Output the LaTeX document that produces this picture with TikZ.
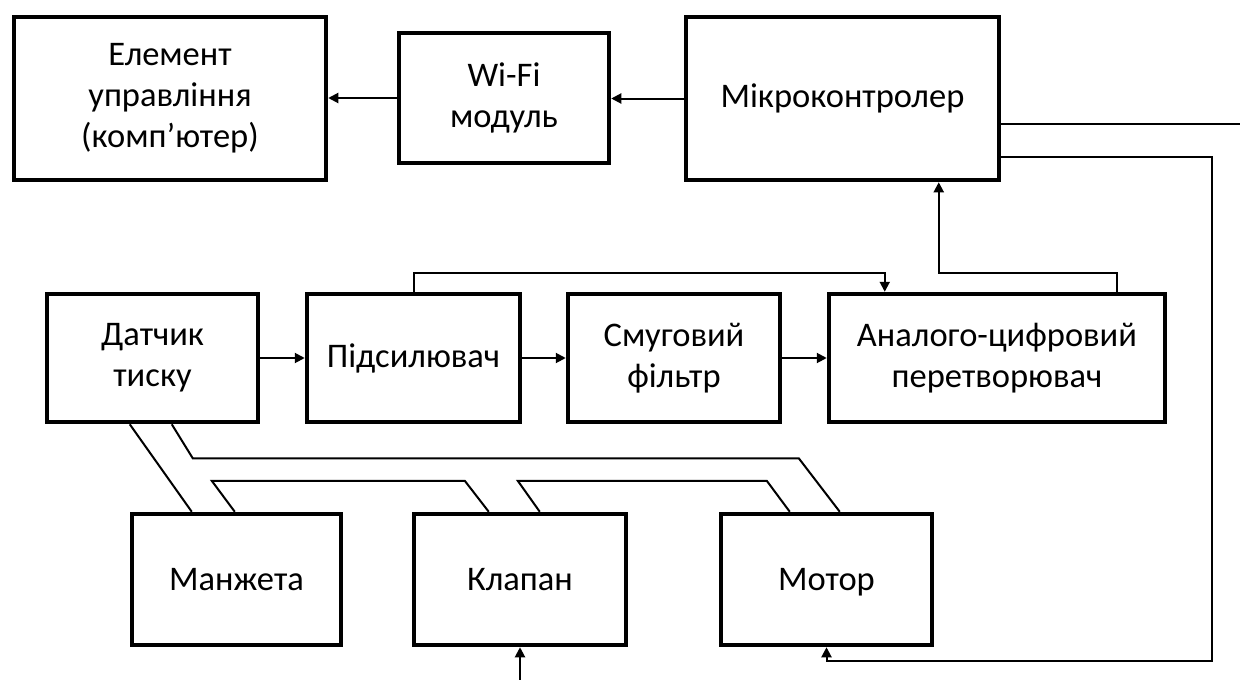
\documentclass[tikz,border=0pt]{standalone}
\usepackage{fontspec}
\setmainfont{Carlito}
\usetikzlibrary{arrows.meta,calc}
\begin{document}
\begin{tikzpicture}[x=1pt,y=-1pt,
  blk/.style={draw,line width=4.5pt,inner sep=0pt,align=center,
    font=\fontsize{34.5}{41}\selectfont},
  conn/.style={line width=2pt},
  arr/.style={line width=2pt,-{Triangle[length=10pt,width=10pt]}}]
\useasboundingbox (0,0) rectangle (1240,680);
\fill[white] (0,0) rectangle (1240,680);
% top row
\node[blk,minimum width=312pt,minimum height=163pt] (el) at (170,98.5) {Елемент\\управління\\(комп’ютер)};
\node[blk,minimum width=210pt,minimum height=130pt] (wifi) at (504,98) {Wi-Fi\\модуль};
\node[blk,minimum width=313pt,minimum height=163pt] (mcu) at (842.5,98.5) {Мікроконтроле\smash{р}};
% middle row
\node[blk,minimum width=211pt,minimum height=128pt] (dat) at (152.5,358) {Датчик\\тиску};
\node[blk,minimum width=213pt,minimum height=128pt] (amp) at (413.5,358) {Підсилювач};
\node[blk,minimum width=212pt,minimum height=128pt] (flt) at (674,358) {Смуговий\\фільтр};
\node[blk,minimum width=336pt,minimum height=128pt] (adc) at (997,358) {Аналого-цифровий\\перетворювач};
% bottom row
\node[blk,minimum width=209pt,minimum height=131pt] (man) at (236.5,579.5) {Манжета};
\node[blk,minimum width=212pt,minimum height=131pt] (kla) at (520,579.5) {Клапан};
\node[blk,minimum width=211pt,minimum height=131pt] (mot) at (826.5,579.5) {Мото\smash{р}};
% free ends
\coordinate (edge) at (1240,124);
\coordinate (rc) at (1212,157);
\coordinate (rb) at (1212,661);
\coordinate (kin) at (520,680);
% arrows
\draw[arr] (mcu.west) -- (mcu.west -| wifi.east);
\draw[arr] (wifi.west) -- (wifi.west -| el.east);
\draw[arr] (dat.east) -- (amp.west);
\draw[arr] (amp.east) -- (flt.west);
\draw[arr] (flt.east) -- (adc.west);
\draw[arr] (amp.north) -- ++(0,-19) -| ($(adc.north west)+(58,0)$);
\draw[arr] ($(adc.north east)+(-50,0)$) -- ++(0,-19) -| ($(mcu.south west)+(255,0)$);
\draw[conn] (mcu.east |- edge) -- (edge);
\draw[arr] (mcu.east |- rc) -- (rc) -- (rb) -| (mot.south);
\draw[arr] (kin) -- (kla.south);
% pipes
\draw[conn] ($(dat.south west)+(85,0)$) -- ($(man.north west)+(62,0)$);
\draw[conn] ($(dat.south west)+(127,0)$) -- ++(21,34) -- ++(606,0) -- ($(mot.north west)+(121,0)$);
\draw[conn] ($(man.north west)+(105,0)$) -- ++(-23,-31) -- ++(253,0) -- ($(kla.north west)+(77,0)$);
\draw[conn] ($(kla.north west)+(128,0)$) -- ++(-22,-31) -- ++(249,0) -- ($(mot.north west)+(71,0)$);
\end{tikzpicture}
\end{document}
